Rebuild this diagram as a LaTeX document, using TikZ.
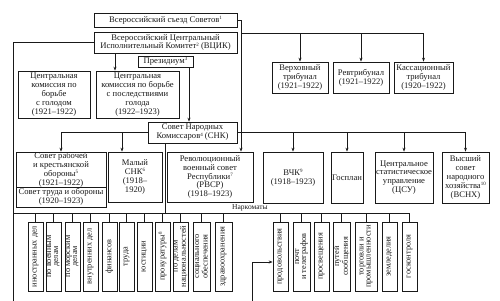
\documentclass[tikz,border=0pt]{standalone}
\usepackage{fontspec}
\setmainfont{Liberation Serif}
\usetikzlibrary{arrows.meta}
\newcommand{\fn}[1]{\raisebox{0.32em}{\fontsize{5}{5}\selectfont #1}}

\begin{document}
\begin{tikzpicture}[x=1pt, y=-1pt, line width=0.7pt, color=black!90,
    >={Stealth[length=4pt,width=3pt]},
    every node/.style={font=\fontsize{8.6}{8.9}\selectfont},
    box/.style={draw, align=center, inner sep=0.5pt},
    nark/.style={box, rotate=90, minimum width=69pt, inner sep=0pt,
      font=\fontsize{8.3}{7}\selectfont}]
    \useasboundingbox (0,0) rectangle (500,300);
    \clip (0,0) rectangle (500,300);
    \node[box, minimum width=143pt, minimum height=14pt] (sezd) at (165.5,20) {Всероссийский съезд Советов\fn{1}};
    \node[box, minimum width=143pt, minimum height=21pt] (vcik) at (165.5,42.5) {Всероссийский Центральный\\Исполнительный Комитет\fn{2} (ВЦИК)};
    \node[box, minimum width=55pt, minimum height=11pt, inner sep=0pt] (prez) at (165.5,61.5) {Президиум\fn{3}};
    \node[box, minimum width=72pt, minimum height=47pt] (komgol) at (54,94.5) {Центральная\\комиссия по\\борьбе\\с голодом\\(1921--1922)};
    \node[box, minimum width=83pt, minimum height=47pt] (komposl) at (137.5,94.5) {Центральная\\комиссия по борьбе\\с последствиями\\голода\\(1922--1923)};
    \node[box, minimum width=89pt, minimum height=21pt] (snk) at (192.5,132.5) {Совет Народных\\Комиссаров\fn{4} (СНК)};
    \node[box, minimum width=56pt, minimum height=31pt] (verh) at (300,77.5) {Верховный\\трибунал\\(1921--1922)};
    \node[box, minimum width=56pt, minimum height=31pt] (revtrib) at (361,77.5) {Ревтрибунал\\(1921--1922)};
    \node[box, minimum width=59pt, minimum height=31pt] (kass) at (423.5,77.5) {Кассационный\\трибунал\\(1920--1922)};
    \node[box, minimum width=90pt, minimum height=35pt, inner sep=0pt] (sro) at (61,169.5) {Совет рабочей\\и крестьянской\\обороны\fn{5}\\(1921--1922)};
    \node[box, minimum width=90pt, minimum height=20pt, inner sep=0pt] (sto) at (61,197) {Совет труда и обороны\\(1920--1923)};
    \node[box, minimum width=54pt, minimum height=50pt] (malsnk) at (135,177) {Малый\\СНК\fn{6}\\(1918--\\1920)};
    \node[box, minimum width=86pt, minimum height=50pt] (rvsr) at (210,177) {Революционный\\военный совет\\Республики\fn{7}\\(РВСР)\\(1918--1923)};
    \node[box, minimum width=60pt, minimum height=51pt] (vchk) at (293,177.5) {ВЧК\fn{9}\\(1918--1923)};
    \node[box, minimum width=32pt, minimum height=51pt, inner sep=0pt] (gosplan) at (347,177.5) {Госплан};
    \node[box, minimum width=58pt, minimum height=51pt, inner sep=0pt] (csu) at (404,177.5) {Центральное\\статистическое\\управление\\(ЦСУ)};
    \node[box, minimum width=47pt, minimum height=51pt, inner sep=0pt] (vsnh) at (465.5,177.5) {Высший\\совет\\народного\\хозяйства\fn{10}\\(ВСНХ)};
    \node[font=\fontsize{7.5}{8}\selectfont, inner sep=0pt] (narklabel) at (250,208) {Наркоматы};
    % наркоматы
    \foreach \n/\x/\w/\t in {inod/35.5/15/{иностранных дел}, voen/53.5/15/{по военным\\делам},
        mor/72.5/15/{по морским\\делам}, vnud/90.5/15/{внутренних дел}, fin/109.5/15/{финансов},
        trud/126.5/15/{труда}, just/144.5/15/{юстиции}, prok/162.5/15/{прокуратуры\fn{8}},
        nac/180.5/15/{по делам\\национальностей}, soc/201.5/17/{социального\\обеспечения},
        zdrav/223.5/17/{здравоохранения}, prod/280.5/15/{продовольствия},
        pocht/301.5/17/{почт\\и телеграфов}, pros/321.5/15/{просвещения},
        put/341.5/17/{путей\\сообщения}, torg/366/22/{торговли и\\промышленности},
        zem/389.5/15/{земледелия}, goskon/409.5/15/{госконтроля}}
      \node[nark, minimum height=\w pt] (\n) at (\x,256.5) {\t};
    % связи
    \coordinate (sr) at (241,20);
    \coordinate (trib) at (241,33);
    \coordinate (nark) at (13,213);
    \coordinate (lb) at (13,320);
    \coordinate (rb) at (252,262);
    \draw[->] (sezd.east) -- (sr) -- (sr |- rvsr.north);
    \draw (trib) -- (trib -| kass);
    \foreach \n in {verh,revtrib,kass}
      \draw[->] (trib -| \n) -- (\n.north);
    \draw[->] ([xshift=-50.5pt]vcik.south) -- ([xshift=-22.5pt]komposl.north);
    \draw[->] ([xshift=23.5pt]prez.south) -- ([xshift=-3.5pt]snk.north);
    \draw[->] (snk.west) -| (sro.north);
    \path (malsnk.north) ++(-13,0) coordinate (m1);
    \draw[->] (m1 |- snk.west) -- (m1);
    \draw[->] (snk.east) -| (vsnh.north);
    \foreach \n in {vchk,gosplan,csu}
      \draw[->] (snk.east -| \n) -- (\n.north);
    \path (snk.south) ++(-27.5,0) coordinate (s1);
    \draw (s1) -- (s1 |- nark);
    \draw (nark) -- (nark -| goskon);
    \foreach \n in {inod,voen,mor,vnud,fin,trud,just,prok,nac,soc,zdrav,prod,pocht,pros,put,torg,zem,goskon}
      \draw (nark -| \n) -- (\n.east);
    \draw[->] (vcik.west) -| (lb) -| (rb) -- (prod.north |- rb);
\end{tikzpicture}
\end{document}
